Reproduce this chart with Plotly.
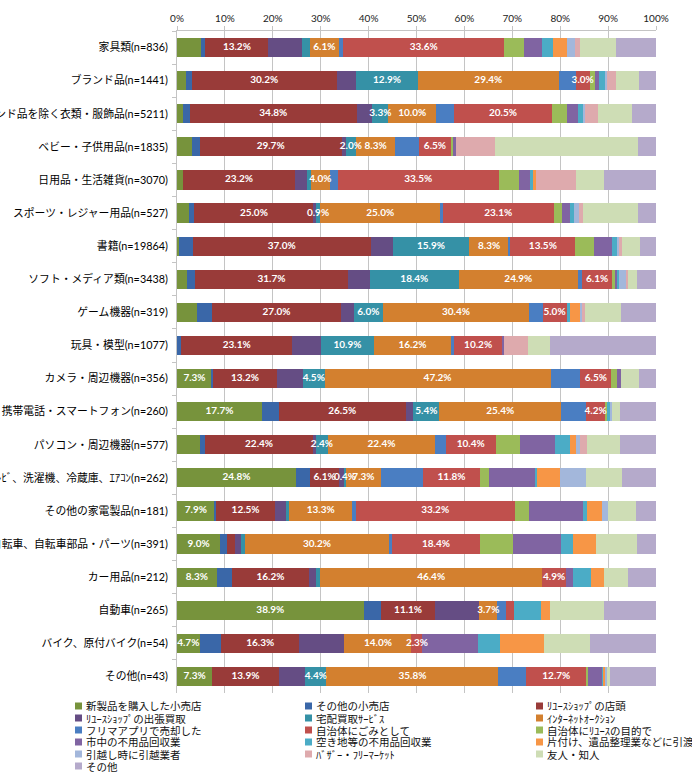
import plotly.graph_objects as go

categories = [
    "家具類(n=836)", "ブランド品(n=1441)", "ブランド品を除く衣類・服飾品(n=5211)",
    "ベビー・子供用品(n=1835)", "日用品・生活雑貨(n=3070)", "スポーツ・レジャー用品(n=527)",
    "書籍(n=19864)", "ソフト・メディア類(n=3438)", "ゲーム機器(n=319)", "玩具・模型(n=1077)",
    "カメラ・周辺機器(n=356)", "携帯電話・スマートフォン(n=260)", "パソコン・周辺機器(n=577)",
    "ﾃﾚﾋﾞ、洗濯機、冷蔵庫、ｴｱｺﾝ(n=262)", "その他の家電製品(n=181)", "自転車、自転車部品・パーツ(n=391)",
    "カー用品(n=212)", "自動車(n=265)", "バイク、原付バイク(n=54)", "その他(n=43)",
]

series_names = [
    "新製品を購入した小売店", "その他の小売店", "ﾘﾕｰｽｼｮｯﾌﾟの店頭",
    "ﾘﾕｰｽｼｮｯﾌﾟの出張買取", "宅配買取ｻｰﾋﾞｽ", "ｲﾝﾀｰﾈｯﾄｵｰｸｼｮﾝ",
    "フリマアプリで売却した", "自治体にごみとして", "自治体にﾘﾕｰｽの目的で",
    "市中の不用品回収業", "空き地等の不用品回収業", "片付け、遺品整理業などに引渡",
    "引越し時に引越業者", "ﾊﾞｻﾞｰ・ﾌﾘｰﾏｰｹｯﾄ", "友人・知人", "その他",
]

s01 = [5.0, 1.9, 1.3, 3.1, 1.3, 2.4, 0.5, 2.1, 4.1, 0.1, 7.3, 17.7, 4.7, 24.8, 7.9, 9.0, 8.3, 38.9, 4.7, 7.3]
s02 = [0.9, 1.2, 1.4, 1.6, 0.0, 1.1, 2.8, 1.7, 3.1, 0.8, 0.3, 3.5, 1.2, 2.9, 0.2, 1.4, 3.1, 3.7, 4.5, 0.0]
s03 = [13.2, 30.2, 34.8, 29.7, 23.2, 25.0, 37.0, 31.7, 27.0, 23.1, 13.2, 26.5, 22.4, 6.1, 12.5, 1.7, 16.2, 11.1, 16.3, 13.9]
s04 = [7.0, 4.1, 3.3, 0.9, 2.6, 0.4, 4.6, 4.7, 2.6, 6.1, 5.5, 1.6, 0.7, 1.0, 2.3, 1.3, 1.4, 9.3, 9.4, 5.5]
s05 = [1.6, 12.9, 3.3, 2.0, 0.7, 0.9, 15.9, 18.4, 6.0, 10.9, 4.5, 5.4, 2.4, 0.4, 0.5, 0.7, 0.8, 0.0, 0.0, 4.4]
s06 = [6.1, 29.4, 10.0, 8.3, 4.0, 25.0, 8.3, 24.9, 30.4, 16.2, 47.2, 25.4, 22.4, 7.3, 13.3, 30.2, 46.4, 3.7, 14.0, 35.8]
s07 = [0.9, 3.5, 3.7, 5.0, 1.6, 0.5, 0.3, 0.9, 2.8, 0.5, 6.2, 5.1, 2.2, 8.8, 0.7, 0.5, 0.0, 1.8, 0.0, 5.7]
s08 = [33.6, 3.0, 20.5, 6.5, 33.5, 23.1, 13.5, 6.1, 5.0, 10.2, 6.5, 4.2, 10.4, 11.8, 33.2, 18.4, 4.9, 1.7, 2.3, 12.7]
s09 = [4.2, 1.0, 3.1, 0.6, 4.2, 1.7, 3.9, 0.8, 0.0, 0.0, 1.1, 0.3, 5.1, 2.0, 3.1, 6.8, 0.0, 0.0, 0.0, 0.3]
s10 = [3.7, 0.8, 2.4, 0.6, 2.3, 1.6, 3.8, 0.4, 0.0, 0.4, 0.8, 0.0, 7.2, 9.6, 11.2, 10.1, 1.5, 0.0, 11.5, 2.9]
s11 = [2.2, 1.4, 1.1, 0.0, 0.7, 1.0, 1.0, 0.3, 0.8, 0.0, 0.0, 0.7, 3.1, 0.4, 0.8, 2.4, 3.7, 5.7, 4.7, 0.3]
s12 = [3.0, 0.0, 0.0, 0.0, 0.5, 0.0, 0.0, 0.0, 1.9, 0.0, 0.0, 0.0, 1.4, 4.6, 3.1, 4.8, 2.8, 1.8, 9.2, 0.3]
s13 = [1.7, 0.3, 0.3, 0.0, 0.0, 0.9, 0.3, 1.5, 0.5, 0.0, 0.0, 0.3, 0.8, 5.6, 1.4, 0.0, 0.0, 0.0, 0.0, 0.3]
s14 = [1.1, 2.0, 2.6, 8.0, 8.3, 1.0, 0.7, 0.4, 0.7, 4.8, 0.0, 0.0, 1.4, 0.0, 0.0, 0.0, 0.0, 0.0, 0.0, 0.0]
s15 = [7.5, 4.8, 7.2, 29.9, 5.9, 11.3, 3.8, 1.8, 7.4, 4.6, 3.8, 1.7, 6.9, 7.5, 5.8, 8.6, 5.0, 11.3, 9.5, 0.7]
s16 = [8.3, 3.5, 5.0, 3.8, 10.8, 3.8, 3.3, 4.0, 7.3, 22.2, 3.6, 7.5, 7.5, 7.0, 4.2, 4.0, 5.8, 10.8, 13.8, 9.6]

series_values = [s01, s02, s03, s04, s05, s06, s07, s08, s09, s10, s11, s12, s13, s14, s15, s16]

# rows (category indices) whose segment carries a data label, per series index
labeled_rows = {
    0: [10, 11, 13, 14, 15, 16, 17, 18, 19],
    2: [i for i in range(20) if i != 15],
    4: [1, 2, 3, 5, 6, 7, 8, 9, 10, 11, 12, 13, 19],
    5: list(range(20)),
    7: [i for i in range(20) if i != 17],
}

colors = [
    "#77933C", "#3A67A8", "#993B39", "#654D84", "#3591A6", "#D3802F",
    "#4A7EC2", "#C0504D", "#9BBB59", "#8064A2", "#4BACC6", "#F79646",
    "#A3B7DB", "#DEAAAD", "#CEDDB5", "#B5AACB",
]

fig = go.Figure()
for k, (name, vals) in enumerate(zip(series_names, series_values)):
    fig.add_trace(go.Bar(
        y=categories, x=vals, name=name, orientation="h",
        marker=dict(color=colors[k], line=dict(width=0)),
        hoverinfo="skip", showlegend=False,
    ))

# data labels drawn on top of all bars, at the centre of each (normalised) segment
totals = [sum(col) for col in zip(*series_values)]
lab_x, lab_y, lab_t = [], [], []
for k, vals in enumerate(series_values):
    for i, v in enumerate(vals):
        if i in labeled_rows.get(k, []):
            before = sum(series_values[j][i] for j in range(k))
            lab_x.append((before + v / 2) / totals[i] * 100)
            lab_y.append(categories[i])
            lab_t.append(f"{v:.1f}%")
fig.add_trace(go.Scatter(
    x=lab_x, y=lab_y, text=lab_t, mode="text", textposition="middle center",
    textfont=dict(color="white", size=10, family="Lato, Noto Sans CJK JP", weight="bold"),
    hoverinfo="skip", showlegend=False, cliponaxis=False,
))

L, R, T, B = 177, 36, 31, 81
W, H = 692, 774
pw, ph = W - L - R, H - T - B

# manual compact legend (3 columns)
col_x = [75, 305, 536]
row_y = [706, 718, 730, 742, 754, 766]
shapes, annotations = [], []
for k, name in enumerate(series_names):
    cx = col_x[k % 3]
    cy = row_y[k // 3]
    x0 = (cx - L) / pw
    x1 = (cx + 7 - L) / pw
    y0 = (H - B - (cy + 3.5)) / ph
    y1 = (H - B - (cy - 3.5)) / ph
    shapes.append(dict(type="rect", xref="paper", yref="paper", x0=x0, x1=x1, y0=y0, y1=y1,
                       fillcolor=colors[k], line=dict(width=0)))
    annotations.append(dict(xref="paper", yref="paper", x=(cx + 9 - L) / pw,
                            y=(H - B - cy) / ph, text=name, showarrow=False,
                            xanchor="left", yanchor="middle",
                            font=dict(size=10.5, color="#111", family="Noto Sans CJK JP")))

fig.update_layout(
    barmode="stack", barnorm="percent", bargap=0.42,
    width=W, height=H,
    margin=dict(l=L, r=R, t=T, b=B, autoexpand=False),
    plot_bgcolor="white", paper_bgcolor="white",
    font=dict(family="Lato, Noto Sans CJK JP", size=11, color="#000"),
    shapes=shapes, annotations=annotations,
    xaxis=dict(
        side="top", range=[0, 100], dtick=10, ticksuffix="%",
        showgrid=True, gridcolor="#C4C4C4", gridwidth=1,
        showline=True, linecolor="#C4C4C4", linewidth=1,
        ticks="outside", ticklen=4, tickcolor="#C4C4C4",
        tickfont=dict(size=10, color="#222"), zeroline=False, automargin=False,
        fixedrange=True,
    ),
    yaxis=dict(
        type="category", autorange=False, range=[len(categories) - 0.5, -0.5],
        showline=True, linecolor="#C4C4C4", linewidth=1,
        ticks="outside", ticklen=4, tickcolor="#C4C4C4", tickson="boundaries",
        ticklabelstandoff=6,
        tickfont=dict(size=10.8, color="#000", family="Lato, Noto Sans CJK JP"),
        showgrid=False, automargin=False, fixedrange=True,
    ),
)

fig.write_html("out.html")
